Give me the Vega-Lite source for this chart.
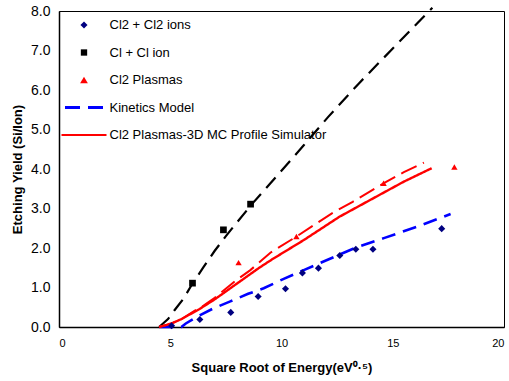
{
  "$schema": "https://vega.github.io/schema/vega-lite/v6.json",
  "width": 445,
  "height": 316,
  "autosize": {"type": "none"},
  "padding": {"left": 59, "top": 11, "right": 5, "bottom": 54},
  "background": "white",
  "config": {
    "font": "Liberation Sans",
    "view": {"stroke": "#000", "strokeWidth": 1},
    "axis": {
      "grid": false,
      "ticks": false,
      "domainColor": "#000",
      "domainWidth": 1.5,
      "labelColor": "#000",
      "titleColor": "#000",
      "labelFont": "Liberation Sans",
      "titleFont": "Liberation Sans",
      "titleFontWeight": "bold",
      "titleFontSize": 13
    }
  },
  "datasets": {
    "points": [
      {"x": 5.06, "y": 0.03, "series": "Cl2 + Cl2 ions"},
      {"x": 6.33, "y": 0.19, "series": "Cl2 + Cl2 ions"},
      {"x": 7.72, "y": 0.37, "series": "Cl2 + Cl2 ions"},
      {"x": 8.95, "y": 0.77, "series": "Cl2 + Cl2 ions"},
      {"x": 10.18, "y": 0.97, "series": "Cl2 + Cl2 ions"},
      {"x": 10.94, "y": 1.37, "series": "Cl2 + Cl2 ions"},
      {"x": 11.66, "y": 1.49, "series": "Cl2 + Cl2 ions"},
      {"x": 12.62, "y": 1.81, "series": "Cl2 + Cl2 ions"},
      {"x": 13.34, "y": 1.97, "series": "Cl2 + Cl2 ions"},
      {"x": 14.11, "y": 1.97, "series": "Cl2 + Cl2 ions"},
      {"x": 17.2, "y": 2.49, "series": "Cl2 + Cl2 ions"},
      {"x": 6.0, "y": 1.11, "series": "Cl + Cl ion"},
      {"x": 7.39, "y": 2.46, "series": "Cl + Cl ion"},
      {"x": 8.61, "y": 3.11, "series": "Cl + Cl ion"},
      {"x": 8.07, "y": 1.63, "series": "Cl2 Plasmas"},
      {"x": 10.67, "y": 2.29, "series": "Cl2 Plasmas"},
      {"x": 14.59, "y": 3.64, "series": "Cl2 Plasmas"},
      {"x": 17.77, "y": 4.05, "series": "Cl2 Plasmas"}
    ],
    "lines": [
      {"x": 4.5, "y": 0.0, "series": "Kinetics Model (Cl + Cl ion)"},
      {"x": 4.9, "y": 0.2, "series": "Kinetics Model (Cl + Cl ion)"},
      {"x": 5.2, "y": 0.43, "series": "Kinetics Model (Cl + Cl ion)"},
      {"x": 5.6, "y": 0.72, "series": "Kinetics Model (Cl + Cl ion)"},
      {"x": 6.0, "y": 1.1, "series": "Kinetics Model (Cl + Cl ion)"},
      {"x": 6.5, "y": 1.52, "series": "Kinetics Model (Cl + Cl ion)"},
      {"x": 7.0, "y": 1.93, "series": "Kinetics Model (Cl + Cl ion)"},
      {"x": 7.5, "y": 2.3, "series": "Kinetics Model (Cl + Cl ion)"},
      {"x": 8.0, "y": 2.65, "series": "Kinetics Model (Cl + Cl ion)"},
      {"x": 8.7, "y": 3.13, "series": "Kinetics Model (Cl + Cl ion)"},
      {"x": 9.8, "y": 3.83, "series": "Kinetics Model (Cl + Cl ion)"},
      {"x": 11.0, "y": 4.6, "series": "Kinetics Model (Cl + Cl ion)"},
      {"x": 12.1, "y": 5.32, "series": "Kinetics Model (Cl + Cl ion)"},
      {"x": 13.5, "y": 6.18, "series": "Kinetics Model (Cl + Cl ion)"},
      {"x": 15.0, "y": 7.05, "series": "Kinetics Model (Cl + Cl ion)"},
      {"x": 16.78, "y": 8.08, "series": "Kinetics Model (Cl + Cl ion)"},
      {"x": 4.5, "y": 0.0, "series": "Kinetics Model"},
      {"x": 5.5, "y": 0.0, "series": "Kinetics Model"},
      {"x": 5.7, "y": 0.09, "series": "Kinetics Model"},
      {"x": 6.2, "y": 0.26, "series": "Kinetics Model"},
      {"x": 6.9, "y": 0.46, "series": "Kinetics Model"},
      {"x": 7.7, "y": 0.65, "series": "Kinetics Model"},
      {"x": 8.5, "y": 0.84, "series": "Kinetics Model"},
      {"x": 9.2, "y": 0.98, "series": "Kinetics Model"},
      {"x": 10.1, "y": 1.22, "series": "Kinetics Model"},
      {"x": 11.0, "y": 1.44, "series": "Kinetics Model"},
      {"x": 12.1, "y": 1.71, "series": "Kinetics Model"},
      {"x": 13.3, "y": 2.0, "series": "Kinetics Model"},
      {"x": 14.6, "y": 2.25, "series": "Kinetics Model"},
      {"x": 16.1, "y": 2.54, "series": "Kinetics Model"},
      {"x": 17.6, "y": 2.86, "series": "Kinetics Model"},
      {"x": 4.5, "y": 0.0, "series": "Kinetics Model (Cl2 Plasmas)"},
      {"x": 5.0, "y": 0.08, "series": "Kinetics Model (Cl2 Plasmas)"},
      {"x": 5.45, "y": 0.18, "series": "Kinetics Model (Cl2 Plasmas)"},
      {"x": 6.0, "y": 0.38, "series": "Kinetics Model (Cl2 Plasmas)"},
      {"x": 6.5, "y": 0.54, "series": "Kinetics Model (Cl2 Plasmas)"},
      {"x": 7.0, "y": 0.74, "series": "Kinetics Model (Cl2 Plasmas)"},
      {"x": 8.0, "y": 1.2, "series": "Kinetics Model (Cl2 Plasmas)"},
      {"x": 8.6, "y": 1.44, "series": "Kinetics Model (Cl2 Plasmas)"},
      {"x": 9.5, "y": 1.88, "series": "Kinetics Model (Cl2 Plasmas)"},
      {"x": 10.7, "y": 2.3, "series": "Kinetics Model (Cl2 Plasmas)"},
      {"x": 12.3, "y": 2.89, "series": "Kinetics Model (Cl2 Plasmas)"},
      {"x": 13.2, "y": 3.17, "series": "Kinetics Model (Cl2 Plasmas)"},
      {"x": 14.6, "y": 3.64, "series": "Kinetics Model (Cl2 Plasmas)"},
      {"x": 15.5, "y": 3.92, "series": "Kinetics Model (Cl2 Plasmas)"},
      {"x": 16.4, "y": 4.16, "series": "Kinetics Model (Cl2 Plasmas)"},
      {"x": 4.5, "y": 0.0, "series": "Cl2 Plasmas-3D MC Profile Simulator"},
      {"x": 5.06, "y": 0.09, "series": "Cl2 Plasmas-3D MC Profile Simulator"},
      {"x": 5.5, "y": 0.2, "series": "Cl2 Plasmas-3D MC Profile Simulator"},
      {"x": 6.3, "y": 0.45, "series": "Cl2 Plasmas-3D MC Profile Simulator"},
      {"x": 7.0, "y": 0.7, "series": "Cl2 Plasmas-3D MC Profile Simulator"},
      {"x": 8.0, "y": 1.1, "series": "Cl2 Plasmas-3D MC Profile Simulator"},
      {"x": 9.0, "y": 1.5, "series": "Cl2 Plasmas-3D MC Profile Simulator"},
      {"x": 9.6, "y": 1.72, "series": "Cl2 Plasmas-3D MC Profile Simulator"},
      {"x": 11.0, "y": 2.2, "series": "Cl2 Plasmas-3D MC Profile Simulator"},
      {"x": 12.6, "y": 2.79, "series": "Cl2 Plasmas-3D MC Profile Simulator"},
      {"x": 14.0, "y": 3.22, "series": "Cl2 Plasmas-3D MC Profile Simulator"},
      {"x": 15.5, "y": 3.68, "series": "Cl2 Plasmas-3D MC Profile Simulator"},
      {"x": 16.75, "y": 4.02, "series": "Cl2 Plasmas-3D MC Profile Simulator"}
    ]
  },
  "encoding": {
    "x": {
      "field": "x",
      "type": "quantitative",
      "scale": {"domain": [0, 20], "nice": false},
      "axis": {
        "title": "Square Root of Energy(eV⁰·⁵)",
        "values": [0, 5, 10, 15, 20],
        "labelFontSize": 11,
        "labelPadding": 10,
        "titlePadding": 13
      }
    },
    "y": {
      "field": "y",
      "type": "quantitative",
      "scale": {"domain": [0, 8], "nice": false},
      "axis": {
        "title": "Etching Yield (Si/Ion)",
        "values": [0, 1, 2, 3, 4, 5, 6, 7, 8],
        "format": ".1f",
        "labelFontSize": 14,
        "labelPadding": 9,
        "titlePadding": 6
      }
    },
    "color": {
      "field": "series",
      "type": "nominal",
      "scale": {
        "domain": ["Cl2 + Cl2 ions", "Cl + Cl ion", "Cl2 Plasmas", "Kinetics Model", "Cl2 Plasmas-3D MC Profile Simulator", "Kinetics Model (Cl + Cl ion)", "Kinetics Model (Cl2 Plasmas)"],
        "range": ["#000080", "#000000", "#ff0000", "#0000ff", "#ff0000", "#000000", "#ff0000"]
      },
      "legend": {
        "values": ["Cl2 + Cl2 ions", "Cl + Cl ion", "Cl2 Plasmas", "Kinetics Model", "Cl2 Plasmas-3D MC Profile Simulator"],
        "title": null,
        "orient": "none",
        "legendX": 18.5,
        "legendY": 7.5,
        "padding": 0,
        "labelFont": "Liberation Sans",
        "labelFontSize": 13,
        "labelColor": "#000",
        "labelLimit": 400,
        "symbolSize": 64,
        "symbolStrokeWidth": 0,
        "symbolOffset": 0,
        "labelOffset": 19,
        "rowPadding": 13.5,
        "encode": {
          "symbols": {
            "update": {
              "shape": {"signal": "datum.value === 'Cl2 + Cl2 ions' ? 'diamond' : datum.value === 'Cl + Cl ion' ? 'square' : datum.value === 'Cl2 Plasmas' ? 'triangle-up' : 'stroke'"},
              "size": {"signal": "datum.value === 'Kinetics Model' ? 1444 : datum.value === 'Cl2 Plasmas-3D MC Profile Simulator' ? 2025 : datum.value === 'Cl2 Plasmas' ? 60 : datum.value === 'Cl + Cl ion' ? 40 : 50"},
              "fill": {"signal": "datum.value === 'Cl2 + Cl2 ions' ? '#000080' : datum.value === 'Cl + Cl ion' ? '#000000' : datum.value === 'Cl2 Plasmas' ? '#ff0000' : 'transparent'"},
              "stroke": {"signal": "datum.value === 'Kinetics Model' ? '#0000ff' : '#ff0000'"},
              "strokeWidth": {"signal": "datum.value === 'Kinetics Model' ? 3 : datum.value === 'Cl2 Plasmas-3D MC Profile Simulator' ? 2 : 0"},
              "strokeDash": {"signal": "datum.value === 'Kinetics Model' ? [15, 8] : [1, 0]"},
              "opacity": {"value": 1}
            }
          }
        }
      }
    }
  },
  "layer": [
    {
      "data": {"name": "lines"},
      "mark": {"type": "line", "clip": false},
      "encoding": {
        "detail": {"field": "series"},
        "strokeDash": {
          "field": "series",
          "type": "nominal",
          "scale": {
            "domain": ["Kinetics Model", "Cl2 Plasmas-3D MC Profile Simulator", "Kinetics Model (Cl + Cl ion)", "Kinetics Model (Cl2 Plasmas)"],
            "range": [[14, 8], [1, 0], [14, 8], [17, 7]]
          },
          "legend": null
        },
        "strokeWidth": {
          "field": "series",
          "type": "nominal",
          "scale": {
            "domain": ["Kinetics Model", "Cl2 Plasmas-3D MC Profile Simulator", "Kinetics Model (Cl + Cl ion)", "Kinetics Model (Cl2 Plasmas)"],
            "range": [2.6, 2, 1.8, 2.6]
          },
          "legend": null
        }
      }
    },
    {
      "data": {"name": "points"},
      "mark": {"type": "point", "filled": true, "opacity": 1},
      "encoding": {
        "shape": {
          "field": "series",
          "type": "nominal",
          "scale": {
            "domain": ["Cl2 + Cl2 ions", "Cl + Cl ion", "Cl2 Plasmas"],
            "range": ["diamond", "square", "triangle-up"]
          },
          "legend": null
        },
        "size": {
          "field": "series",
          "type": "nominal",
          "scale": {
            "domain": ["Cl2 + Cl2 ions", "Cl + Cl ion", "Cl2 Plasmas"],
            "range": [50, 40, 60]
          },
          "legend": null
        }
      }
    }
  ]
}
